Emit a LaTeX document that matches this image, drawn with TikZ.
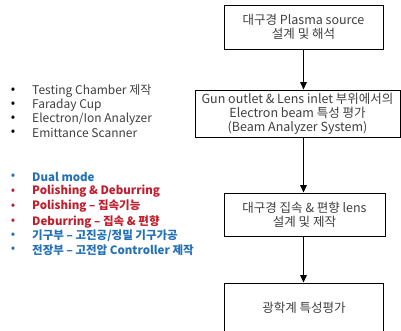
\documentclass[tikz,border=0pt]{standalone}
\usepackage{fontspec}
\setmainfont{Noto Sans CJK KR}
\usetikzlibrary{arrows.meta}
\definecolor{itemgray}{RGB}{64,64,64}
\definecolor{itemblue}{RGB}{36,113,181}
\definecolor{itemred}{RGB}{192,30,45}

\begin{document}
\begin{tikzpicture}[x=1pt,y=-1pt,>={Triangle[length=2.6mm,width=2.2mm]},
  stagebox/.style={draw=black,line width=0.8pt,fill=white,align=center,text=itemgray,font=\fontsize{12.5}{14}\selectfont,inner sep=0pt},
  flowarrow/.style={->,line width=1.6pt},
  itembullet/.style={anchor=center,inner sep=0pt,font=\fontsize{13}{13}\selectfont},
  itemtext/.style={anchor=west,inner sep=0pt,font=\fontsize{12}{12}\selectfont},
  itembold/.style={anchor=west,inner sep=0pt,font=\fontsize{11.5}{12}\selectfont\bfseries}]
\clip (0,0) rectangle (401,331);
\fill[white] (0,0) rectangle (401,331);

\node[stagebox,minimum width=159pt,minimum height=44pt] (source) at (303.5,27) {대구경 Plasma source\\설계 및 해석};
\node[stagebox,minimum width=205pt,minimum height=47pt] (analyzer) at (297.5,113.5) {Gun outlet \& Lens inlet 부위에서의\\Electron beam 특성 평가\\(Beam Analyzer System)};
\node[stagebox,minimum width=161pt,minimum height=43pt] (lens) at (304.5,214.5) {대구경 집속 \& 편향 lens\\설계 및 제작};
\node[stagebox,minimum width=159pt,minimum height=50pt] (optics) at (304,308) {광학계 특성평가};

\draw[flowarrow] (source.south) -- (source.south |- analyzer.north);
\draw[flowarrow] (source.south |- analyzer.south) -- (source.south |- lens.north);
\draw[flowarrow] (source.south |- lens.south) -- (source.south |- optics.north);

\node[itembullet,text=black] (b1) at (13,91) {\textbullet};
\node[itemtext,text=itemgray] (t1) at (32,91) {Testing Chamber 제작};
\node[itembullet,text=black] (b2) at (13,105) {\textbullet};
\node[itemtext,text=itemgray] (t2) at (32,105) {Faraday Cup};
\node[itembullet,text=black] (b3) at (13,119) {\textbullet};
\node[itemtext,text=itemgray] (t3) at (32,119) {Electron/Ion Analyzer};
\node[itembullet,text=black] (b4) at (13,133) {\textbullet};
\node[itemtext,text=itemgray] (t4) at (32,133) {Emittance Scanner};

\node[itembullet,text=itemblue] (b5) at (13,176.5) {\textbullet};
\node[itembold,text=itemblue] (t5) at (32,176.5) {Dual mode};
\node[itembullet,text=itemred] (b6) at (13,191.5) {\textbullet};
\node[itembold,text=itemred] (t6) at (32,191.5) {Polishing \& Deburring};
\node[itembullet,text=itemred] (b7) at (13,206.5) {\textbullet};
\node[itembold,text=itemred] (t7) at (32,206.5) {Polishing – 집속기능};
\node[itembullet,text=itemred] (b8) at (13,221.5) {\textbullet};
\node[itembold,text=itemred] (t8) at (32,221.5) {Deburring – 집속 \& 편향};
\node[itembullet,text=itemblue] (b9) at (13,236) {\textbullet};
\node[itembold,text=itemblue] (t9) at (32,236) {기구부 – 고진공/정밀 기구가공};
\node[itembullet,text=itemblue] (b10) at (13,250) {\textbullet};
\node[itembold,text=itemblue] (t10) at (32,250) {전장부 – 고전압 Controller 제작};
\end{tikzpicture}
\end{document}
